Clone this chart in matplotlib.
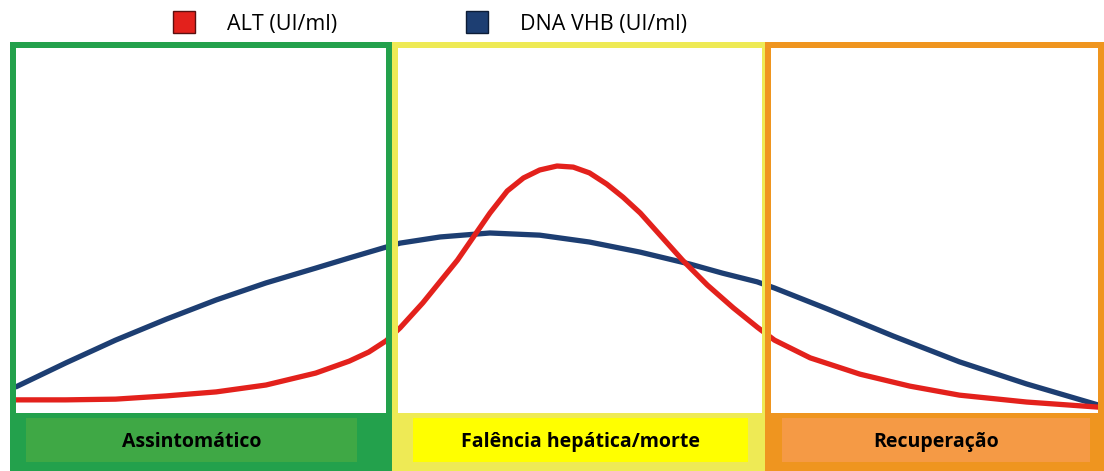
import matplotlib.pyplot as plt
from matplotlib.patches import Rectangle
from matplotlib.lines import Line2D

# time axis (arbitrary units, 0-100) and relative levels (0-100)
t_dna = [0, 4.6, 9.2, 13.9, 18.5, 23.1, 27.7, 30.8, 34.2, 35.5, 39.2,
         43.8, 48.4, 53.0, 57.7, 62.3, 65.3, 68.5, 70.1, 75.0, 81.1,
         87.2, 93.4, 100]
dna = [6.4, 13.0, 19.3, 25.1, 30.4, 35.1, 39.2, 42.0, 45.0, 46.1, 47.8,
       48.9, 48.3, 46.4, 43.6, 40.3, 37.8, 35.4, 33.7, 27.9, 20.4,
       13.3, 7.2, 1.4]

t_alt = [0, 4.6, 9.2, 13.9, 18.5, 23.1, 27.7, 30.8, 32.6, 34.2, 35.5,
         37.6, 40.8, 43.8, 45.4, 46.9, 48.4, 50.0, 51.5, 53.0, 54.6,
         56.1, 57.7, 59.2, 61.6, 63.9, 66.3, 68.5, 70.1, 73.4, 78.0,
         82.6, 87.2, 93.4, 100]
alt = [2.8, 2.8, 3.0, 3.9, 5.0, 6.9, 10.2, 13.5, 16.0, 19.1, 22.7,
       29.6, 41.4, 54.4, 60.5, 64.1, 66.3, 67.4, 67.1, 65.5, 62.4,
       58.8, 54.4, 49.4, 41.4, 34.5, 28.2, 22.9, 19.3, 14.4, 9.9,
       6.6, 4.1, 2.2, 0.8]

phases = ['Assintomático', 'Falência hepática/morte', 'Recuperação']
series_names = ['ALT (UI/ml)', 'DNA VHB (UI/ml)']

red = '#e3211c'
navy = '#1d3e72'

W, H = 1104, 471
fig = plt.figure(figsize=(W / 100, H / 100), dpi=100)

# background panels (pixel coordinates)
bg = fig.add_axes([0, 0, 1, 1])
bg.set_xlim(0, W)
bg.set_ylim(H, 0)
bg.axis('off')
bg.set_zorder(0)

panels = [
    # x0, x1, border/band colour, label box colour
    (10, 392, '#23a14c', '#3fa845'),
    (392, 768, '#eeea55', '#ffff00'),
    (765, 1104, '#ef951f', '#f59a45'),
]
label_boxes = [(26, 357), (413, 748), (782, 1090)]

for (x0, x1, edge, fill), (lx0, lx1), name in zip(panels, label_boxes, phases):
    bg.add_patch(Rectangle((x0, 42), x1 - x0, H - 42, color=edge, lw=0))
    bg.add_patch(Rectangle((x0 + 6, 48), x1 - x0 - 12, 413 - 48,
                           color='white', lw=0))
    bg.add_patch(Rectangle((lx0, 418), lx1 - lx0, 44, color=fill, lw=0))
    bg.text((lx0 + lx1) / 2, 442, name, ha='center', va='center',
            fontsize=14, fontweight='bold', family='Open Sans', color='black')

# curves
ax = fig.add_axes([16 / W, (H - 410) / H, 1082 / W, 362 / H])
ax.set_zorder(1)
ax.patch.set_alpha(0)
ax.set_xlim(0, 100)
ax.set_ylim(0, 100)
ax.axis('off')
ax.plot(t_dna, dna, color=navy, lw=3.8, solid_capstyle='round',
        solid_joinstyle='round')
ax.plot(t_alt, alt, color=red, lw=3.8, solid_capstyle='round',
        solid_joinstyle='round')

# vertical borders drawn on top of the curves
top = fig.add_axes([0, 0, 1, 1])
top.set_zorder(2)
top.patch.set_alpha(0)
top.set_xlim(0, W)
top.set_ylim(H, 0)
top.axis('off')
for x0, x1, edge, fill in panels:
    top.add_patch(Rectangle((x0, 48), 6, 413 - 48, color=edge, lw=0))
    top.add_patch(Rectangle((x1 - 6, 48), 6, 413 - 48, color=edge, lw=0))

handles = [Line2D([], [], ls='none', marker='s', markersize=16,
                  markerfacecolor=red, markeredgecolor='#5a1010'),
           Line2D([], [], ls='none', marker='s', markersize=16,
                  markerfacecolor=navy, markeredgecolor='#0c1c36')]
fig.legend(handles, series_names, loc='upper left',
           bbox_to_anchor=(158 / W, 1.0), ncol=2, frameon=False,
           prop={'family': 'Open Sans', 'size': 15.5}, handlelength=1.1,
           handletextpad=1.45, columnspacing=5.95, borderpad=0.15)

fig.savefig('out.png', dpi=100)
